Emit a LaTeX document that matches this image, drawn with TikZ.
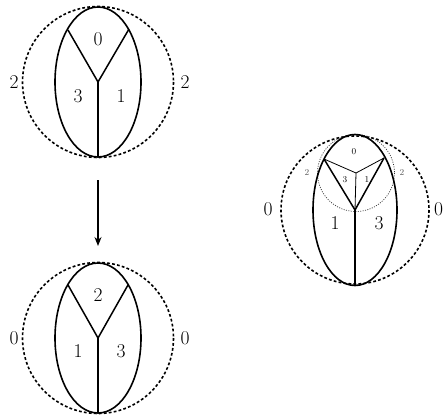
\documentclass[tikz,border=0pt]{standalone}
\usetikzlibrary{arrows.meta}
\tikzset{
  ell/.style={line width=1.6pt},
  thickline/.style={line width=1.5pt},
  thinline/.style={line width=0.8pt},
  dashcirc/.style={line width=1.6pt, dash pattern=on 2.8pt off 2.2pt},
  dotcirc/.style={line width=0.7pt, dash pattern=on 1pt off 1.4pt, draw=black!80},
  biglab/.style={inner sep=0pt, font=\fontsize{19.5}{20}\selectfont},
  smalllab/.style={inner sep=0pt, font=\fontsize{9}{10}\selectfont},
  graylab/.style={inner sep=0pt, font=\fontsize{9}{10}\selectfont, text=black!65},
}
\begin{document}
\begin{tikzpicture}[x=1pt,y=-1pt]
\useasboundingbox (0,0) rectangle (444,417);
% ---------- top diagram ----------
\coordinate (tc) at (98,82);
\coordinate (tl) at (68,30);
\coordinate (tr) at (129,29);
\coordinate (tb) at (98,157);
\draw[dashcirc] (tc) circle[radius=75.5];
\draw[ell] (tc) ellipse[x radius=43, y radius=75];
\draw[thickline] (tl) -- (tc) -- (tr);
\draw[thickline] (tc) -- (tb);
\node[biglab] (t0) at (98,39) {0};
\node[biglab] (t3) at (78,96) {3};
\node[biglab] (t1) at (121,96) {1};
\node[biglab] (t2l) at (14,82) {2};
\node[biglab] (t2r) at (185,82) {2};
% ---------- arrow ----------
\coordinate (a1) at (98,180);
\coordinate (a2) at (98,246);
\draw[line width=1.2pt, -{Stealth[length=9pt,width=7pt]}] (a1) -- (a2);
% ---------- bottom diagram ----------
\coordinate (bc) at (98,338);
\coordinate (bl) at (68,285);
\coordinate (br) at (128,285);
\coordinate (bb) at (98,413);
\draw[dashcirc] (bc) circle[radius=75.5];
\draw[ell] (bc) ellipse[x radius=43, y radius=75];
\draw[thickline] (bl) -- (bc) -- (br);
\draw[thickline] (bc) -- (bb);
\node[biglab] (b2) at (98,295) {2};
\node[biglab] (b1) at (78,351) {1};
\node[biglab] (b3) at (121,351) {3};
\node[biglab] (b0l) at (14,338) {0};
\node[biglab] (b0r) at (185,338) {0};
% ---------- right diagram ----------
\coordinate (rc) at (355,210);
\coordinate (rl) at (324,159);
\coordinate (rr) at (384,158);
\coordinate (rb) at (355,286);
\coordinate (ri) at (356,173);
\draw[dashcirc] (rc) circle[radius=74];
\draw[dotcirc] (ri) circle[radius=38.5];
\draw[ell] (rc) ellipse[x radius=42, y radius=75.5];
\draw[thickline] (rl) -- (rc) -- (rr);
\draw[thickline] (rc) -- (rb);
\draw[thinline] (rl) -- (ri) -- (rr);
\draw[thinline] (ri) -- (rc);
\node[smalllab] (r0s) at (354,152) {0};
\node[smalllab] (r3s) at (345,180) {3};
\node[smalllab] (r1s) at (367,180) {1};
\node[graylab] (r2l) at (307,173) {2};
\node[graylab] (r2r) at (402,173) {2};
\node[biglab] (r1) at (335,223) {1};
\node[biglab] (r3) at (379,223) {3};
\node[biglab] (r0l) at (268,209) {0};
\node[biglab] (r0r) at (438.5,209) {0};
\end{tikzpicture}
\end{document}
